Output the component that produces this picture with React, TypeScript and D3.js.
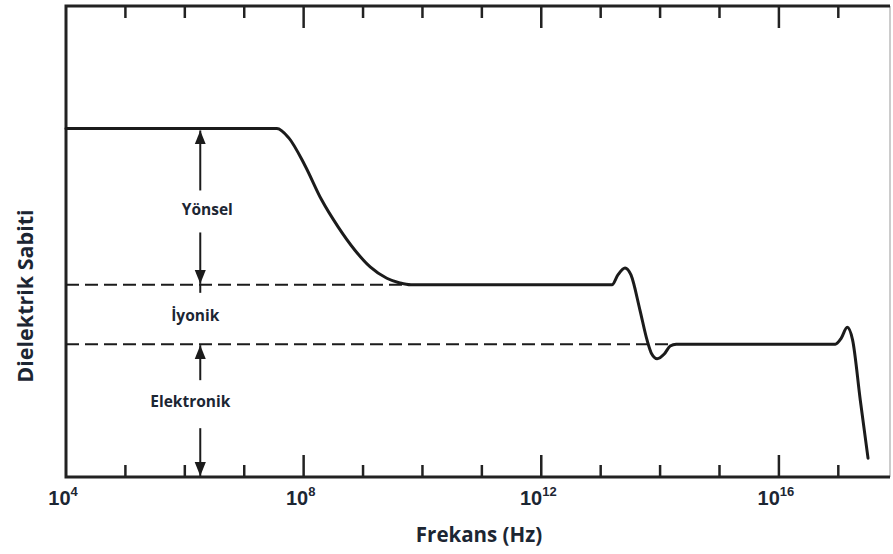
import { line, curveMonotoneX, range, scaleLinear, scaleLog } from 'd3'

// log10(frequency) and relative dielectric constant
const logFreq = [
  4.0, 7.55, 7.75, 8.02, 8.3, 8.58, 8.86, 9.12, 9.4, 9.62, 9.8,
  13.19, 13.29, 13.41, 13.51, 13.66, 13.78, 13.86, 13.95, 14.07, 14.17, 14.27,
  16.95, 17.05, 17.15, 17.24, 17.37, 17.5,
]
const epsilon = [
  7.4, 7.4, 7.2, 6.62, 5.89, 5.31, 4.82, 4.46, 4.22, 4.12, 4.08,
  4.08, 4.29, 4.44, 4.29, 3.55, 2.91, 2.61, 2.51, 2.61, 2.78, 2.82,
  2.82, 2.95, 3.18, 2.91, 1.63, 0.4,
]

const levelTop = 7.4
const levelIonic = 4.08
const levelElectronic = 2.82
const ionicDashEnd = 9.8
const electronicDashEnd = 14.27
const arrowLogFreq = 6.26

const majorTicks = [4, 8, 12, 16]
const regionLabels = ['Yönsel', 'İyonik', 'Elektronik']
// label centres: [dx from arrow in px, epsilon value]
const regionLabelPos = [
  [7, 5.64],
  [-5, 3.41],
  [-10, 1.57],
]

const width = 893
const height = 554
const margin = { top: 6, right: 3, bottom: 77, left: 66 }
const innerWidth = width - margin.left - margin.right
const innerHeight = height - margin.top - margin.bottom

const ink = '#1b1b1b'
const textInk = '#1c2633'

const App = () => {
  const x = scaleLog().domain([1e4, Math.pow(10, 17.87)]).range([0, innerWidth])
  const y = scaleLinear().domain([0, 10]).range([innerHeight, 0])
  const fx = (e: number) => x(Math.pow(10, e))

  const points = logFreq.map((e, i) => [fx(e), y(epsilon[i])] as [number, number])
  const path = line().curve(curveMonotoneX)(points) ?? ''

  const decades = range(5, 18)
  const ax = fx(arrowLogFreq)

  const yTop = y(levelTop)
  const yIon = y(levelIonic)
  const yEl = y(levelElectronic)
  const yBottom = y(0)

  return (
    <svg width={width} height={height} style={{ display: 'block', background: '#fff' }}>
      <style>{'body{margin:0}'}</style>
      <defs>
        <marker id="head" viewBox="0 0 10 10" refX="10" refY="5" markerWidth="7" markerHeight="7" orient="auto">
          <path d="M0,1 L10,5 L0,9 Z" fill={ink} />
        </marker>
      </defs>
      <g transform={`translate(${margin.left}, ${margin.top})`}>
        {/* frame */}
        <line x1={innerWidth} x2={innerWidth} y1={0} y2={innerHeight} stroke="#999" strokeWidth={1} />
        <path
          d={`M${innerWidth},0 H0 V${innerHeight} H${innerWidth}`}
          fill="none"
          stroke="#222"
          strokeWidth={3}
        />

        {/* ticks */}
        {decades.map((d) => {
          const len = majorTicks.includes(d) ? 22 : 12
          const px = fx(d)
          return (
            <g key={d}>
              <line x1={px} x2={px} y1={innerHeight} y2={innerHeight - len} stroke="#222" strokeWidth={2.5} />
              <line x1={px} x2={px} y1={0} y2={len} stroke="#222" strokeWidth={2.5} />
            </g>
          )
        })}

        {majorTicks.map((d) => (
          <text
            key={d}
            x={fx(d) - 3}
            y={innerHeight + 28}
            textAnchor="middle"
            fontFamily="'Liberation Sans', Arial, sans-serif"
            fontWeight={700}
            fontSize={20}
            fill={textInk}
          >
            10
            <tspan fontSize={13} dy={-9}>
              {d}
            </tspan>
          </text>
        ))}

        {/* dashed level lines */}
        <line x1={0} x2={fx(ionicDashEnd)} y1={yIon} y2={yIon} stroke={ink} strokeWidth={2} strokeDasharray="13,6" />
        <line
          x1={0}
          x2={fx(electronicDashEnd)}
          y1={yEl}
          y2={yEl}
          stroke={ink}
          strokeWidth={2}
          strokeDasharray="13,6"
        />

        {/* curve */}
        <path d={path} fill="none" stroke={ink} strokeWidth={3} strokeLinejoin="round" strokeLinecap="round" />

        {/* arrows */}
        <line x1={ax} x2={ax} y1={yTop + 62} y2={yTop + 2} stroke={ink} strokeWidth={2} markerEnd="url(#head)" />
        <line x1={ax} x2={ax} y1={yTop + 104} y2={yIon - 1} stroke={ink} strokeWidth={2} markerEnd="url(#head)" />
        <line x1={ax} x2={ax} y1={yIon - 1} y2={yIon + 8} stroke={ink} strokeWidth={2} />
        <line x1={ax} x2={ax} y1={yEl + 36} y2={yEl + 1} stroke={ink} strokeWidth={2} markerEnd="url(#head)" />
        <line x1={ax} x2={ax} y1={yEl + 84} y2={yBottom - 1} stroke={ink} strokeWidth={2} markerEnd="url(#head)" />

        {/* region labels */}
        {regionLabels.map((label, i) => (
          <text
            key={label}
            x={ax + regionLabelPos[i][0]}
            y={y(regionLabelPos[i][1])}
            textAnchor="middle"
            dominantBaseline="middle"
            fontFamily="'Open Sans', sans-serif"
            fontWeight={700}
            fontSize={15.5}
            fill={textInk}
          >
            {label}
          </text>
        ))}
      </g>

      {/* axis titles */}
      <text
        x={479}
        y={542}
        textAnchor="middle"
        fontFamily="'Open Sans', sans-serif"
        fontWeight={700}
        fontSize={20.5}
        fill={textInk}
      >
        Frekans (Hz)
      </text>
      <text
        transform="translate(33, 296) rotate(-90)"
        textAnchor="middle"
        fontFamily="'Open Sans', sans-serif"
        fontWeight={700}
        fontSize={21.5}
        fill={textInk}
      >
        Dielektrik Sabiti
      </text>
    </svg>
  )
}

export default App
